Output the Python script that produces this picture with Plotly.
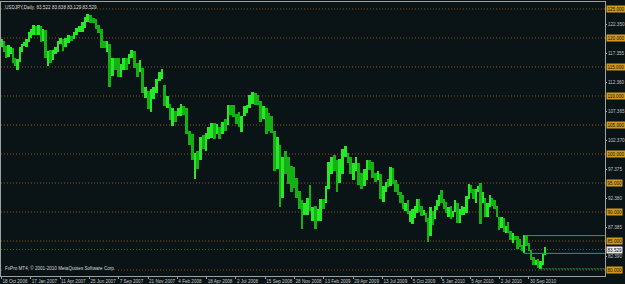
import numpy as np
import pandas as pd
import plotly.graph_objects as go

# ---------------- data (weekly high / low / close, USDJPY daily chart read-off) -------------
week_start = "2006-10-16"
hi = [119.9, 119.5, 118.6, 118.8, 118.4, 118.2, 116.6, 116.4, 118.5, 119.0, 119.3,
      119.9, 121.0, 121.5, 122.2, 122.0, 122.2, 122.0, 121.5, 121.3, 117.8, 118.0, 118.0, 118.5,
      119.5, 120.0, 119.8, 120.0, 120.5, 120.4, 121.0, 121.8, 122.0, 122.7, 123.7, 124.1, 124.0,
      123.4, 123.3, 122.3, 121.5, 119.5, 119.5, 119.0, 116.5, 116.5, 116.5, 115.5, 116.5, 116.5,
      117.2, 117.9, 117.7, 115.7, 116.2, 114.8, 111.5, 110.8, 111.2, 111.6, 113.0, 114.1, 114.6,
      111.9, 110.0, 108.6, 107.9, 107.4, 108.0, 108.6, 108.3, 107.9, 104.0, 103.5, 100.2, 100.5,
      103.0, 103.2, 103.7, 104.6, 105.4, 105.3, 105.2, 104.6, 105.6, 106.0, 108.5, 108.5, 108.5,
      106.9, 107.3, 106.5, 108.2, 108.5, 110.2, 110.7, 110.6, 110.2, 109.2, 108.3, 108.0, 107.0,
      106.5, 104.0, 103.0, 101.5, 99.5, 100.6, 99.5, 98.0, 97.8, 95.8, 93.7, 92.0, 91.5, 92.5,
      94.6, 90.8, 91.0, 90.5, 92.3, 92.3, 94.5, 98.6, 99.5, 99.8, 99.0, 99.2, 100.8, 101.4, 100.2,
      99.5, 98.5, 99.5, 98.5, 96.7, 97.5, 98.9, 98.9, 98.6, 96.8, 97.0, 96.5, 94.5, 95.2, 95.7,
      97.8, 97.6, 95.5, 94.8, 93.5, 93.0, 91.6, 92.0, 90.2, 90.5, 91.0, 92.3, 92.2, 91.0, 90.3,
      89.9, 89.0, 90.8, 90.2, 91.0, 92.0, 93.0,
      93.8, 92.2, 91.7, 90.9, 91.0, 90.2, 92.0, 91.5, 90.5, 91.0, 90.9, 92.8, 94.8, 94.7, 93.9,
      94.0, 94.5, 95.0, 93.5, 92.5, 91.6, 93.0, 92.5, 92.0, 91.1, 89.2, 89.2, 89.0, 87.6, 88.2,
      86.8, 86.3, 85.8, 85.8, 85.4, 84.4, 86.0, 86.0, 84.6, 83.4, 82.2, 81.7, 81.9, 81.6, 82.8,
      83.9]
lo = [118.5, 117.5, 116.5, 116.8, 117.3, 115.6, 115.1, 114.4, 115.8, 117.5, 118.6,
      118.5, 119.3, 120.0, 120.5, 120.5, 120.5, 119.3, 119.5, 116.5, 115.2, 115.7, 116.2, 117.2,
      117.5, 119.0, 117.7, 118.4, 119.2, 119.5, 119.8, 120.5, 121.0, 121.0, 121.8, 122.7, 122.5,
      122.5, 121.5, 120.9, 118.3, 118.2, 117.5, 111.6, 113.5, 114.5, 113.3, 113.2, 114.5, 114.5,
      115.5, 116.5, 114.8, 113.3, 114.2, 110.5, 109.7, 107.7, 107.2, 109.5, 110.5, 112.5, 113.0,
      108.2, 108.0, 105.8, 104.9, 105.5, 106.5, 106.5, 106.8, 103.5, 101.5, 98.9, 95.7, 97.5,
      99.0, 100.8, 100.5, 102.5, 102.7, 102.5, 103.5, 102.6, 103.5, 104.0, 105.0, 106.8, 106.3,
      105.2, 104.7, 103.8, 106.5, 107.0, 108.0, 108.6, 108.4, 108.4, 105.5, 106.0, 103.5, 104.0,
      103.6, 97.0, 97.5, 90.9, 92.5, 96.5, 94.8, 93.5, 94.2, 92.5, 90.5, 87.1, 89.5, 89.5,
      90.2, 88.5, 87.1, 88.5, 88.5, 90.5, 91.5, 94.0, 96.5, 97.0, 93.5, 95.0, 96.5, 99.5, 98.5,
      96.5, 95.5, 97.0, 94.6, 93.9, 94.5, 95.5, 97.2, 95.8, 95.2, 95.5, 92.2, 91.7, 93.5, 94.3,
      94.4, 94.8, 93.5, 93.0, 91.6, 90.5, 90.1, 89.6, 88.2, 88.0, 88.9, 89.8, 90.0, 89.3, 89.5,
      88.2, 84.8, 85.9, 87.8, 88.8, 90.3, 91.0,
      91.5, 90.5, 89.8, 89.2, 88.8, 89.2, 90.0, 88.1, 88.1, 89.5, 89.5, 89.8, 92.3, 93.2, 92.2,
      91.6, 93.5, 88.0, 91.5, 89.1, 89.2, 90.9, 91.0, 90.6, 89.2, 86.9, 87.2, 86.5, 86.3, 86.3,
      85.2, 84.7, 85.2, 83.6, 83.9, 83.3, 82.9, 84.2, 83.2, 81.8, 80.9, 80.9, 80.4, 80.2, 80.9,
      82.6]
cl = [119.5, 117.7, 117.3, 117.5, 117.8, 116.0, 115.5, 116.2, 118.2, 118.8, 119.0,
      119.8, 120.6, 121.0, 121.5, 120.9, 121.6, 119.5, 121.0, 116.6, 117.3, 116.7, 117.8, 117.8,
      119.2, 119.7, 118.6, 119.7, 120.2, 119.9, 120.9, 121.5, 121.7, 121.7, 123.5, 123.8, 123.2,
      123.1, 121.8, 121.2, 118.8, 118.5, 118.6, 114.5, 116.0, 115.8, 113.5, 115.0, 115.5, 115.0,
      117.1, 117.5, 115.5, 114.5, 114.9, 110.8, 110.9, 108.4, 111.0, 111.6, 113.0, 113.5, 113.8,
      108.4, 109.1, 106.8, 107.0, 106.6, 107.3, 107.8, 107.6, 103.8, 102.5, 99.0, 99.7, 99.2,
      102.5, 101.5, 103.6, 104.5, 105.2, 102.9, 104.3, 103.4, 105.5, 104.8, 108.2, 107.3, 106.5,
      106.2, 106.0, 106.5, 107.6, 108.0, 110.0, 110.5, 110.0, 108.8, 106.5, 107.8, 107.5, 106.0,
      105.3, 100.0, 101.5, 94.5, 98.5, 98.3, 97.0, 96.0, 95.5, 93.0, 91.0, 89.0, 90.6, 91.8,
      90.6, 90.7, 88.9, 89.9, 92.0, 91.5, 93.8, 97.6, 98.4, 98.0, 95.5, 98.0, 100.2, 100.3, 99.5,
      97.5, 98.2, 98.8, 95.3, 94.5, 95.5, 98.7, 98.5, 96.5, 95.5, 96.5, 92.6, 94.0, 94.8, 94.6,
      97.5, 94.9, 94.5, 93.6, 92.3, 90.7, 91.2, 89.8, 89.8, 89.8, 90.9, 92.0, 90.3, 89.8, 89.8,
      88.5, 86.5, 90.5, 89.2, 90.3, 91.3, 92.9,
      92.6, 90.7, 90.2, 90.2, 89.2, 89.9, 91.5, 89.0, 90.2, 90.5, 90.5, 92.5, 94.6, 93.2, 92.3,
      93.9, 94.0, 91.6, 92.4, 89.9, 91.6, 91.9, 91.6, 90.6, 89.3, 87.7, 88.6, 86.6, 87.4, 86.5,
      85.4, 86.2, 85.6, 85.2, 84.3, 83.9, 85.8, 84.2, 83.3, 81.9, 81.4, 81.4, 80.4, 81.3, 82.5,
      83.5]

# date axis labels (MT4 bar-index axis, one label every fixed number of bars)
label_dates = ["2006-10-18", "2007-01-17", "2007-04-11", "2007-06-25", "2007-09-07",
               "2007-11-21", "2008-02-04", "2008-04-18", "2008-07-02", "2008-09-15",
               "2008-11-28", "2009-02-13", "2009-04-29", "2009-07-13", "2009-10-05",
               "2010-01-05", "2010-04-05", "2010-07-02", "2010-09-30"]
label_text = ["18 Oct 2006", "17 Jan 2007", "11 Apr 2007", "25 Jun 2007", "7 Sep 2007",
              "21 Nov 2007", "4 Feb 2008", "18 Apr 2008", "2 Jul 2008", "15 Sep 2008",
              "28 Nov 2008", "13 Feb 2009", "29 Apr 2009", "13 Jul 2009", "5 Oct 2009",
              "5 Jan 2010", "5 Apr 2010", "2 Jul 2010", "30 Sep 2010"]

# price scale labels
grid_levels = [125, 120, 115, 110, 105, 100, 95, 90, 85, 80]
scale_labels = [122.350, 117.355, 112.360, 107.365, 102.370, 97.375, 92.380, 87.385, 82.390]
current_price = 83.529
header = "USDJPY,Daily  83.522 83.638 83.129 83.529"
footer = "FxPro MT4, \u00a9 2001-2010 MetaQuotes Software Corp."

# drawn horizontal levels (intervention high/low, November low)
level_hi, level_hi_date = 85.93, "2010-09-15"
level_lo, level_lo_date = 82.87, "2010-09-15"
level_min, level_min_date = 80.20, "2010-11-01"

# ---------------- build ----------------
BG = "#0a1315"
FONT = "Liberation Sans"
FS = 4.6

idx = np.arange(len(label_dates), dtype=float)
ld = pd.to_datetime(label_dates).values.astype("datetime64[D]").astype(float)


def to_u(days):
    days = np.atleast_1d(np.asarray(days, dtype=float))
    u = np.interp(days, ld, idx)
    b = days < ld[0]
    u[b] = (days[b] - ld[0]) / 91.0
    a = days > ld[-1]
    u[a] = idx[-1] + (days[a] - ld[-1]) / 88.0
    return u


def day(s):
    return float(np.datetime64(s, "D").astype(float))


hi_a, lo_a, cl_a = np.array(hi), np.array(lo), np.array(cl)
wk = pd.date_range(week_start, periods=len(hi), freq="7D").values.astype("datetime64[D]").astype(float)
xc = to_u(wk + 2.5)
wd = to_u(wk + 7) - to_u(wk)
prev = np.concatenate([[cl_a[0]], cl_a[:-1]])
colors = np.where(cl_a >= prev, "#28e628", "#14b014")

x_range = [-0.017, 20.594]
y_range = [78.97, 126.2]

fig = go.Figure()
fig.add_trace(go.Bar(x=xc, y=hi_a - lo_a, base=lo_a, width=wd,
                     marker=dict(color=colors, line=dict(width=0)),
                     hoverinfo="skip", showlegend=False))

shapes = []
for g in grid_levels:
    shapes.append(dict(type="line", xref="paper", yref="y", x0=0, x1=1, y0=g, y1=g,
                       line=dict(color="#8a5818", width=1, dash="1px,2px"), layer="below"))
shapes.append(dict(type="line", xref="paper", yref="y", x0=0, x1=1, y0=current_price, y1=current_price,
                   line=dict(color="#1f7a2a", width=1, dash="1px,2px"), layer="below"))
for lvl, d, col, dash in [(level_hi, level_hi_date, "#1b9aa2", "solid"),
                          (level_lo, level_lo_date, "#1b9aa2", "solid"),
                          (level_min, level_min_date, "#2a9a55", "2px,1px")]:
    shapes.append(dict(type="line", xref="x", yref="y", x0=float(to_u(day(d))[0]), x1=x_range[1],
                       y0=lvl, y1=lvl, line=dict(color=col, width=1, dash=dash)))

ann = []
ann.append(dict(text=header, xref="paper", yref="paper", x=0, y=1, xanchor="left", yanchor="top",
                xshift=2, yshift=-1, showarrow=False, font=dict(family=FONT, size=FS, color="#d8d8d8")))
ann.append(dict(text=footer, xref="paper", yref="paper", x=0, y=0, xanchor="left", yanchor="bottom",
                xshift=2, yshift=3, showarrow=False, bgcolor=BG,
                font=dict(family=FONT, size=FS, color="#d8d8d8")))
for g in grid_levels:
    ann.append(dict(text=f"{g:.3f}", xref="paper", yref="y", x=1, y=g, xanchor="left", yanchor="middle",
                    xshift=1, showarrow=False, bgcolor="#d09a1c", borderpad=0.5,
                    font=dict(family=FONT, size=FS, color="#1a1200")))
ann.append(dict(text=f"{current_price:.3f}", xref="paper", yref="y", x=1, y=current_price,
                xanchor="left", yanchor="middle", xshift=1, showarrow=False, bgcolor="#ececec",
                borderpad=0.5, font=dict(family=FONT, size=FS, color="#000000")))

fig.update_layout(
    width=625, height=284,
    margin=dict(l=0, r=18, t=2, b=8),
    paper_bgcolor=BG, plot_bgcolor=BG,
    shapes=shapes, annotations=ann,
    bargap=0,
    font=dict(family=FONT, size=FS, color="#c8c8c8"),
)
fig.update_xaxes(range=x_range, showgrid=False, zeroline=False,
                 tickmode="array", tickvals=idx, ticktext=label_text, tickangle=0,
                 ticks="outside", ticklen=2, tickcolor="#a0a0a0",
                 ticklabelposition="outside right",
                 tickfont=dict(family=FONT, size=FS, color="#c8c8c8"),
                 showline=True, linecolor="#a0a0a0", linewidth=1, mirror=True)
fig.update_yaxes(range=y_range, side="right", showgrid=False, zeroline=False,
                 tickmode="array", tickvals=scale_labels, ticktext=[f"{v:.3f}" for v in scale_labels],
                 ticks="outside", ticklen=1, tickcolor="#a0a0a0",
                 tickfont=dict(family=FONT, size=FS, color="#c0c0c0"),
                 showline=True, linecolor="#a0a0a0", linewidth=1, mirror=True)

fig.write_html("out.html")
